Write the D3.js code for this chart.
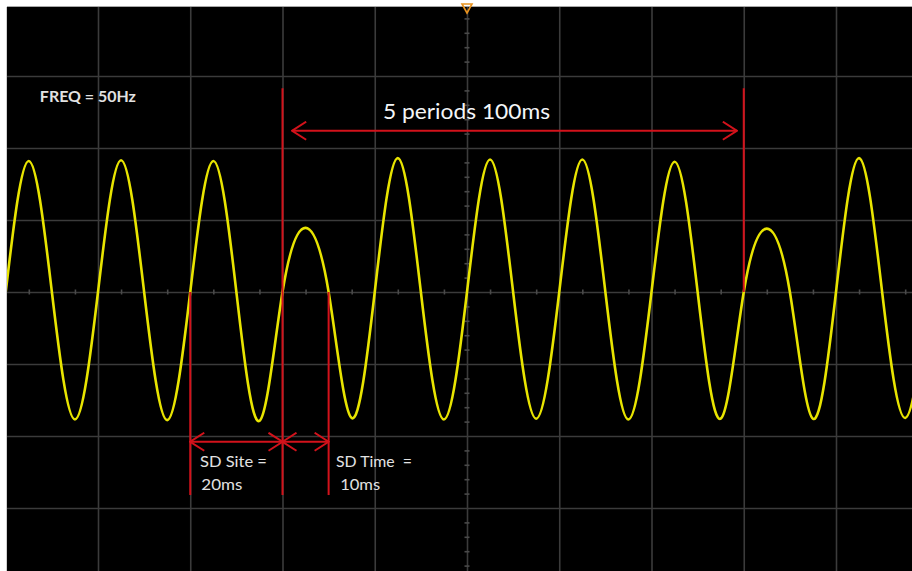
<!DOCTYPE html>
<html>
<head>
<meta charset="utf-8">
<script src="https://cdn.jsdelivr.net/npm/d3@7"></script>
<style>
  html, body { margin: 0; padding: 0; background: #fff; }
  svg { display: block; }
</style>
</head>
<body>
<script>
// waveform at quarter periods: time in ms, level in divisions
const waveTime = [
  -100, -95, -90, -85, -80, -75, -70, -65, -60, -55,
  -50, -45, -40, -35, -30, -25, -20, -15, -10, -5,
  0, 5, 10, 15, 20, 25, 30, 35, 40, 45,
  50, 55, 60, 65, 70, 75, 80, 85, 90, 95, 100
];
const waveLevel = [
  0, 1.82, 0, -1.77, 0, 1.83, 0, -1.78, 0, 1.82,
  0, -1.79, 0, 0.89, 0, -1.75, 0, 1.86, 0, -1.77,
  0, 1.84, 0, -1.76, 0, 1.84, 0, -1.77, 0, 1.81,
  0, -1.76, 0, 0.88, 0, -1.76, 0, 1.86, 0, -1.75, 0
];

// graticule: 20 ms per division, 10 x 8 divisions
const gridTimes = [-100, -80, -60, -40, -20, 0, 20, 40, 60, 80, 100];
const gridLevels = [-4, -3, -2, -1, 0, 1, 2, 3, 4];
const centerTimeTicks = [-95, -85, -75, -65, -55, -45, -35, -25, -15, -5, 5, 15, 25, 35, 45, 55, 65, 75, 85, 95];
const centerLevelTicks = [
  -3.8, -3.6, -3.4, -3.2, -2.8, -2.6, -2.4, -2.2, -1.8, -1.6, -1.4, -1.2, -0.8, -0.6, -0.4, -0.2,
  0.2, 0.4, 0.6, 0.8, 1.2, 1.4, 1.6, 1.8, 2.2, 2.4, 2.6, 2.8, 3.2, 3.4, 3.6, 3.8
];

// red cursors and measurement arrows
const cursorTime = [-40, 60, -60, -30];
const cursorTop = [2.83, 2.83, 0, 0];
const cursorBottom = [-2.82, 0, -2.82, -2.82];
const arrowFrom = [-37.9, -60, -40];
const arrowTo = [58.5, -40, -30];
const arrowLevel = [2.24, -2.08, -2.08];

const labelText = ["FREQ = 50Hz", "5 periods 100ms", "SD Site =", "20ms", "SD Time  =", "10ms"];
const labelTime = [-92.6, -18.2, -57.9, -57.6, -28.4, -27.5];
const labelLevel = [2.64, 2.4, -2.43, -2.75, -2.43, -2.75];

const width = 912, height = 571, border = 7;
const red = "#d3121b", yellow = "#e8e400", gridColor = "#3b3b3b";

const svg = d3.select("body").append("svg")
    .attr("width", width)
    .attr("height", height);

const x = d3.scaleLinear().domain([-100, 100]).range([5.75, 928.25]);
const y = d3.scaleLinear().domain([-4, 4]).range([580, 4]);

svg.append("rect").attr("width", width).attr("height", height).attr("fill", "#fff");
svg.append("rect")
    .attr("x", border).attr("y", border)
    .attr("width", width - border).attr("height", height - border)
    .attr("fill", "#000");
svg.append("line").attr("x1", border).attr("x2", width).attr("y1", border - 0.5).attr("y2", border - 0.5)
    .attr("stroke", "#a8a8a8");
svg.append("line").attr("x1", border - 0.5).attr("x2", border - 0.5).attr("y1", border).attr("y2", height)
    .attr("stroke", "#d0d0d0");

svg.append("clipPath").attr("id", "screen")
  .append("rect")
    .attr("x", border).attr("y", border)
    .attr("width", width - border).attr("height", height - border);

const screen = svg.append("g").attr("clip-path", "url(#screen)");

// grid
screen.append("g")
    .attr("class", "grid x")
    .attr("transform", `translate(0,${y(-4)})`)
    .call(d3.axisBottom(x).tickValues(gridTimes).tickSize(-(y(-4) - y(4))).tickFormat(""));
screen.append("g")
    .attr("class", "grid y")
    .attr("transform", `translate(${x(-100)},0)`)
    .call(d3.axisLeft(y).tickValues(gridLevels).tickSize(-(x(100) - x(-100))).tickFormat(""));

// small ticks along the centre lines
screen.append("g")
    .attr("class", "center x")
    .attr("transform", `translate(0,${y(0) - 2.5})`)
    .call(d3.axisBottom(x).tickValues(centerTimeTicks).tickSize(5).tickFormat(""));
screen.append("g")
    .attr("class", "center y")
    .attr("transform", `translate(${x(0) - 2.5},0)`)
    .call(d3.axisRight(y).tickValues(centerLevelTicks).tickSize(5).tickFormat(""));

screen.selectAll(".grid .domain, .center .domain").remove();
screen.selectAll(".grid line").attr("stroke", gridColor).attr("stroke-width", 1.6);
screen.selectAll(".center line").attr("stroke", "#4a4a4a").attr("stroke-width", 1.6);

// trace
const wave = waveTime.map((t, i) => ({ t: t, v: waveLevel[i] }));
screen.append("path")
    .datum(wave)
    .attr("fill", "none")
    .attr("stroke", yellow)
    .attr("stroke-width", 2.6)
    .attr("d", d3.line().x(d => x(d.t)).y(d => y(d.v)).curve(d3.curveNatural));

// arrow head
svg.append("defs").append("marker")
    .attr("id", "head")
    .attr("viewBox", "0 0 16 20")
    .attr("refX", 15).attr("refY", 10)
    .attr("markerWidth", 16).attr("markerHeight", 20)
    .attr("markerUnits", "userSpaceOnUse")
    .attr("orient", "auto-start-reverse")
  .append("path")
    .attr("d", "M1,1 L15,10 L1,19")
    .attr("fill", "none")
    .attr("stroke", red)
    .attr("stroke-width", 2);

// cursors
screen.selectAll(".cursor")
    .data(cursorTime)
    .enter().append("line")
    .attr("class", "cursor")
    .attr("x1", d => x(d)).attr("x2", d => x(d))
    .attr("y1", (d, i) => y(cursorTop[i]))
    .attr("y2", (d, i) => y(cursorBottom[i]))
    .attr("stroke", red)
    .attr("stroke-width", 2);

screen.selectAll(".span")
    .data(arrowFrom)
    .enter().append("line")
    .attr("class", "span")
    .attr("x1", d => x(d)).attr("x2", (d, i) => x(arrowTo[i]))
    .attr("y1", (d, i) => y(arrowLevel[i])).attr("y2", (d, i) => y(arrowLevel[i]))
    .attr("stroke", red)
    .attr("stroke-width", 2)
    .attr("marker-start", "url(#head)")
    .attr("marker-end", "url(#head)");

// labels
const labelSize = [15, 22, 15, 15, 15, 15];
const labelWidth = [96, 167, 67, 41, 76, 40];
svg.selectAll(".label")
    .data(labelText)
    .enter().append("text")
    .attr("class", "label")
    .attr("x", (d, i) => x(labelTime[i]))
    .attr("y", (d, i) => y(labelLevel[i]))
    .attr("font-family", "Lato, 'Open Sans', sans-serif")
    .attr("font-size", (d, i) => labelSize[i] + "px")
    .attr("font-weight", (d, i) => i === 0 ? "bold" : "normal")
    .attr("fill", (d, i) => i === 1 ? "#f4f6f8" : "#e2e2e2")
    .attr("textLength", (d, i) => labelWidth[i])
    .attr("lengthAdjust", "spacingAndGlyphs")
    .style("white-space", "pre")
    .text(d => d);

// trigger position marker
svg.append("path")
    .attr("d", `M${x(0) - 5},4 L${x(0) + 5},4 L${x(0)},13 Z`)
    .attr("fill", "none")
    .attr("stroke", "#e8921e")
    .attr("stroke-width", 1.6);
</script>
</body>
</html>
